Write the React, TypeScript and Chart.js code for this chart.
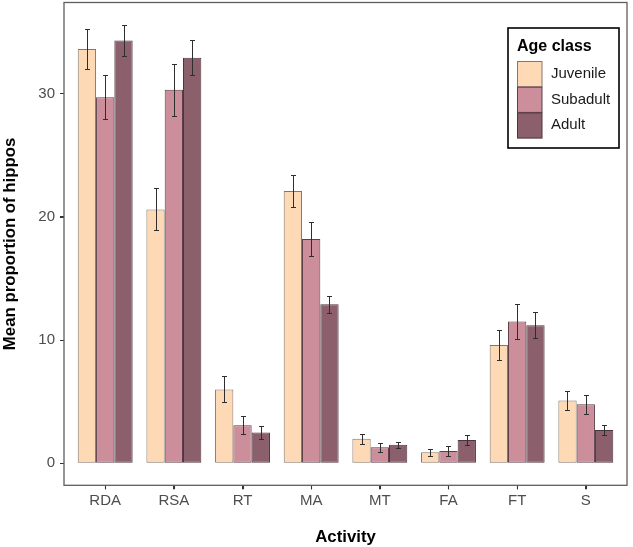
import React, { useEffect, useRef } from "react";
import { Chart, registerables } from "chart.js";

Chart.register(...registerables);

const categories = ["RDA", "RSA", "RT", "MA", "MT", "FA", "FT", "S"];
const seriesNames = ["Juvenile", "Subadult", "Adult"];
const juvenile = [33.6, 20.6, 6.0, 22.1, 2.0, 0.9, 9.6, 5.1];
const juvenileSE = [1.6, 1.7, 1.05, 1.3, 0.4, 0.3, 1.2, 0.75];
const subadult = [29.7, 30.3, 3.1, 18.2, 1.3, 1.0, 11.5, 4.8];
const subadultSE = [1.8, 2.1, 0.75, 1.4, 0.37, 0.42, 1.4, 0.77];
const adult = [34.3, 32.9, 2.5, 12.9, 1.5, 1.9, 11.2, 2.7];
const adultSE = [1.25, 1.4, 0.5, 0.7, 0.25, 0.4, 1.07, 0.4];
const yTicks = [0, 10, 20, 30];

const fills = ["#FDD9B5", "#CC8E9B", "#8B5F6B"];
const borders = ["#85766a", "#5a3f49", "#4e343d"];
const FONT = "'Liberation Sans', Arial, sans-serif";

const errorBars = {
  id: "errorBars",
  afterDatasetsDraw(chart: any) {
    const ctx = chart.ctx;
    const ys = chart.scales.y;
    ctx.save();
    ctx.strokeStyle = "#2e2e2e";
    ctx.lineWidth = 1;
    chart.data.datasets.forEach((ds: any, di: number) => {
      const meta = chart.getDatasetMeta(di);
      meta.data.forEach((el: any, i: number) => {
        const v = ds.data[i].y;
        const se = ds.se[i];
        const x = Math.round(el.x) + 0.5;
        const t = Math.round(ys.getPixelForValue(v + se)) + 0.5;
        const b = Math.round(ys.getPixelForValue(v - se)) + 0.5;
        ctx.beginPath();
        ctx.moveTo(x, t);
        ctx.lineTo(x, b);
        ctx.moveTo(x - 2.5, t);
        ctx.lineTo(x + 2.5, t);
        ctx.moveTo(x - 2.5, b);
        ctx.lineTo(x + 2.5, b);
        ctx.stroke();
      });
    });
    ctx.restore();
  },
};

const frameAndLegend = {
  id: "frameAndLegend",
  afterDraw(chart: any) {
    const ctx = chart.ctx;
    const a = chart.chartArea;
    const xs = chart.scales.x;
    const ys = chart.scales.y;
    ctx.save();
    // tick marks
    ctx.strokeStyle = "#333333";
    ctx.lineWidth = 1.1;
    ctx.beginPath();
    xs.ticks.forEach((t: any) => {
      const px = Math.round(xs.getPixelForValue(t.value)) + 0.5;
      ctx.moveTo(px, a.bottom);
      ctx.lineTo(px, a.bottom + 4);
    });
    ys.ticks.forEach((t: any) => {
      const py = Math.round(ys.getPixelForValue(t.value)) + 0.5;
      ctx.moveTo(a.left, py);
      ctx.lineTo(a.left - 4, py);
    });
    ctx.stroke();

    ctx.strokeStyle = "#5e5e5e";
    ctx.lineWidth = 1.3;
    ctx.strokeRect(a.left, a.top, a.right - a.left, a.bottom - a.top);

    // legend
    const lx = 508, ly = 28, lw = 111, lh = 120;
    ctx.fillStyle = "#ffffff";
    ctx.fillRect(lx, ly, lw, lh);
    ctx.strokeStyle = "#000000";
    ctx.lineWidth = 1.6;
    ctx.strokeRect(lx, ly, lw, lh);
    ctx.fillStyle = "#000000";
    ctx.font = `bold 16px ${FONT}`;
    ctx.textBaseline = "alphabetic";
    ctx.textAlign = "left";
    ctx.fillText("Age class", 517, 51);
    const rowH = 25.7;
    chart.data.datasets.forEach((ds: any, i: number) => {
      const y0 = 61 + i * rowH;
      ctx.fillStyle = ds.backgroundColor;
      ctx.fillRect(517, y0, 25, rowH);
      ctx.strokeStyle = ds.borderColor;
      ctx.lineWidth = 1;
      ctx.strokeRect(517.5, y0 + 0.5, 24.5, rowH - 0.5);
      ctx.fillStyle = "#1a1a1a";
      ctx.font = `15px ${FONT}`;
      ctx.textBaseline = "middle";
      ctx.fillText(ds.label, 551, y0 + rowH / 2);
    });
    ctx.restore();
  },
};

export default function App() {
  const ref = useRef<HTMLCanvasElement>(null);
  useEffect(() => {
    const seriesVals = [juvenile, subadult, adult];
    const seriesSE = [juvenileSE, subadultSE, adultSE];
    const chart = new Chart(ref.current!, {
      type: "bar",
      data: {
        datasets: seriesNames.map((name, s) => ({
          label: name,
          data: seriesVals[s].map((v, i) => ({ x: i, y: v })),
          se: seriesSE[s],
          backgroundColor: fills[s],
          borderColor: borders[s],
          borderWidth: 1,
          borderSkipped: false,
          categoryPercentage: 0.8,
          barPercentage: 1.0,
        })) as any,
      },
      options: {
        animation: false,
        responsive: true,
        maintainAspectRatio: false,
        layout: { padding: { top: 2.5, right: 6, left: 0, bottom: 0 } },
        plugins: { legend: { display: false }, tooltip: { enabled: false } },
        scales: {
          x: {
            type: "linear",
            min: -0.6,
            max: categories.length - 1 + 0.6,
            offset: false,
            afterBuildTicks: (scale: any) => {
              scale.ticks = categories.map((_, i) => ({ value: i }));
            },
            afterFit: (scale: any) => {
              scale.height = 61.7;
              scale.paddingLeft = 0;
              scale.paddingRight = 0;
            },
            ticks: {
              autoSkip: false,
              maxRotation: 0,
              padding: 3,
              color: "#4d4d4d",
              font: { family: FONT, size: 15 },
              callback: (v: any) => categories[v as number] ?? "",
            },
            grid: {
              offset: false,
              drawOnChartArea: false,
              drawTicks: true,
              tickLength: 4,
              color: "#333333",
            },
            border: { display: false },
            title: {
              display: true,
              text: "Activity",
              color: "#000000",
              font: { family: FONT, size: 16.8, weight: "bold", lineHeight: 1.2 },
              padding: { top: 0, bottom: 0 },
            },
          },
          y: {
            min: -1.78,
            max: 37.38,
            afterBuildTicks: (scale: any) => {
              scale.ticks = yTicks.map((v) => ({ value: v }));
            },
            afterFit: (scale: any) => {
              scale.width = 64;
              scale.paddingTop = 0;
              scale.paddingBottom = 0;
            },
            ticks: {
              padding: 5,
              color: "#4d4d4d",
              font: { family: FONT, size: 15 },
            },
            grid: {
              drawOnChartArea: false,
              drawTicks: true,
              tickLength: 4,
              color: "#333333",
            },
            border: { display: false },
            title: {
              display: true,
              text: "Mean proportion of hippos",
              color: "#000000",
              font: { family: FONT, size: 16.8, weight: "bold", lineHeight: 1.2 },
              padding: { top: 0, bottom: 0 },
            },
          },
        },
      },
      plugins: [errorBars, frameAndLegend],
    });
    return () => chart.destroy();
  }, []);
  return (
    <div style={{ position: "absolute", left: 0, top: 0, width: 633, height: 547 }}>
      <canvas ref={ref} style={{ display: "block" }} />
    </div>
  );
}
